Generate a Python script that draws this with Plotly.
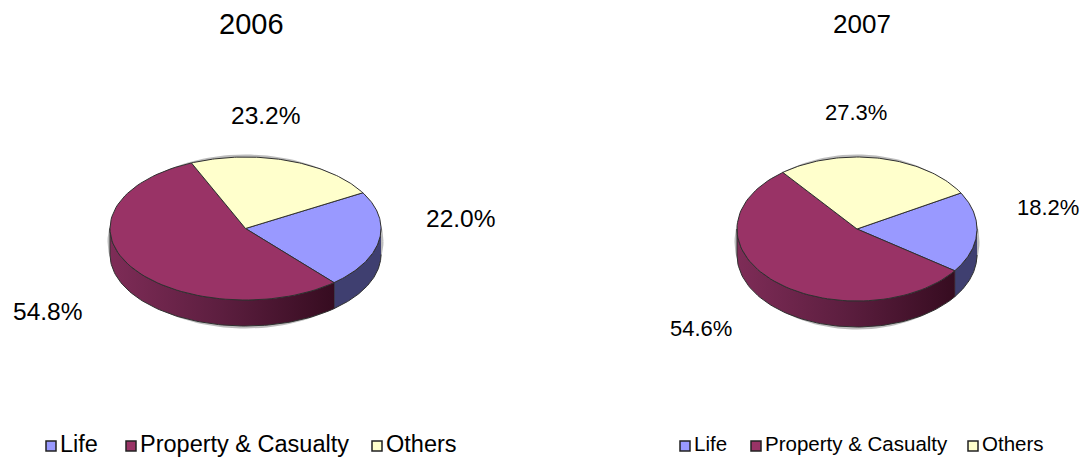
import math

import plotly.graph_objects as go

# values
categories = ["Life", "Property & Casualty", "Others"]
years = ["2006", "2007"]
shares_2006 = [22.0, 54.8, 23.2]
shares_2007 = [18.2, 54.6, 27.3]

COLORS = ["#9999ff", "#993366", "#ffffcc"]
SIDE_LIFE = "#3f3f70"
SIDE_PC = [[0, "#7e2c57"], [0.5, "#5c1e3f"], [1, "#360c20"]]
EDGE = "#303030"
FONT = "Liberation Sans"

START_ANGLE = 30  # degrees on the ellipse, slices go clockwise


def arc(cx, cy, rx, ry, a0, a1, n=80):
    pts = [a0 + (a1 - a0) * i / n for i in range(n + 1)]
    xs = [cx + rx * math.cos(math.radians(a)) for a in pts]
    ys = [cy - ry * math.sin(math.radians(a)) for a in pts]
    return xs, ys


def add_pie(fig, shares, cx, cy, rx, ry, depth):
    total = sum(shares)
    angles = [START_ANGLE]
    for s in shares:
        angles.append(angles[-1] - s / total * 360)

    # soft shadow round the disc
    xs, ys = arc(cx, cy + depth / 2, rx + 1, ry + depth / 2 + 1, 0, 360, 160)
    fig.add_trace(go.Scatter(x=xs, y=ys, mode="lines", hoverinfo="skip",
                             line=dict(color="rgba(90,90,90,0.4)", width=3)))

    # side wall, Life part then P&C part
    xs, ys = arc(cx, cy, rx, ry, 0, angles[1])
    xb, yb = arc(cx, cy + depth, rx, ry, angles[1], 0)
    fig.add_trace(go.Scatter(x=xs + xb, y=ys + yb, fill="toself", mode="lines", fillcolor=SIDE_LIFE,
                             line=dict(color=EDGE, width=1), hoverinfo="skip"))
    xs, ys = arc(cx, cy, rx, ry, angles[1], -180)
    xb, yb = arc(cx, cy + depth, rx, ry, -180, angles[1])
    fig.add_trace(go.Scatter(x=xs + xb, y=ys + yb, fill="toself", mode="lines",
                             fillgradient=dict(type="horizontal", colorscale=SIDE_PC),
                             line=dict(color=EDGE, width=1), hoverinfo="skip"))

    # top face
    for i in range(len(shares)):
        xs, ys = arc(cx, cy, rx, ry, angles[i], angles[i + 1])
        fig.add_trace(go.Scatter(x=[cx] + xs + [cx], y=[cy] + ys + [cy], fill="toself", mode="lines",
                                 fillcolor=COLORS[i], line=dict(color=EDGE, width=1),
                                 name=categories[i], hoverinfo="skip"))


def add_legend(fig, marker_xs, y, size):
    for i, name in enumerate(categories):
        fig.add_trace(go.Scatter(
            x=[marker_xs[i]], y=[y], mode="markers", hoverinfo="skip",
            marker=dict(symbol="square", size=10, color=COLORS[i], line=dict(color="#222222", width=1.5)),
        ))
        fig.add_trace(go.Scatter(
            x=[marker_xs[i] + 9], y=[y], mode="text", text=[name], textposition="middle right",
            textfont=dict(family=FONT, size=size, color="#000000"), hoverinfo="skip",
        ))


fig = go.Figure()
add_pie(fig, shares_2006, 245.5, 228.5, 135.5, 71.5, 26)
add_pie(fig, shares_2007, 857, 229, 120, 72, 26)
add_legend(fig, [51, 131, 377], 446, 23.5)
add_legend(fig, [685, 756, 973], 446, 20.5)

label_pos = [
    ((460, 218), (47, 311), (265, 115), 24.5),
    ((1048, 207), (701, 328), (856, 112), 22),
]
for shares, (p_life, p_pc, p_oth, size) in zip([shares_2006, shares_2007], label_pos):
    for val, pos in zip(shares, [p_life, p_pc, p_oth]):
        fig.add_annotation(x=pos[0], y=pos[1], text=f"{val:.1f}%", showarrow=False,
                           font=dict(family=FONT, size=size, color="#000000"))

fig.add_annotation(x=251, y=24, text=years[0], showarrow=False, font=dict(family=FONT, size=29, color="#000000"))
fig.add_annotation(x=862, y=24, text=years[1], showarrow=False, font=dict(family=FONT, size=26, color="#000000"))

fig.update_layout(
    width=1083, height=458,
    margin=dict(l=0, r=0, t=0, b=0),
    showlegend=False,
    paper_bgcolor="#ffffff", plot_bgcolor="#ffffff",
    xaxis=dict(range=[0, 1083], visible=False, fixedrange=True),
    yaxis=dict(range=[458, 0], visible=False, fixedrange=True),
)
fig.write_html("out.html", config=dict(displayModeBar=False),
               post_script="document.body.style.margin='0';document.body.style.overflow='hidden';")
